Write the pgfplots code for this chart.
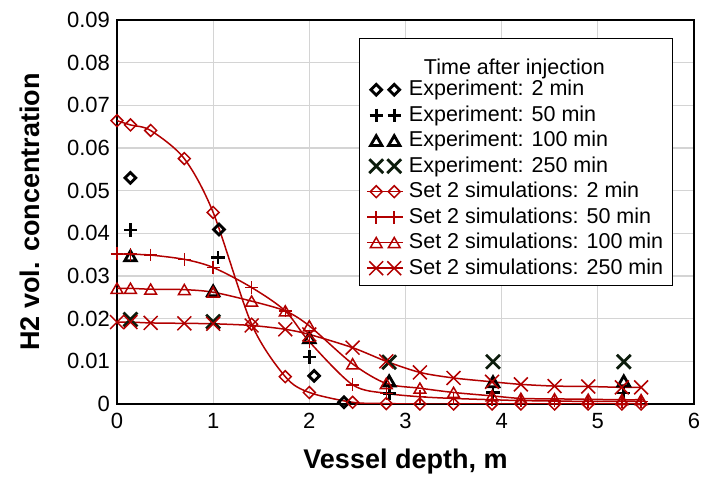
\documentclass[border=0pt]{standalone}
\usepackage{fontspec}
\setmainfont{Liberation Sans}
\usepackage{pgfplots}
\pgfplotsset{compat=1.18}
\definecolor{simred}{RGB}{178,0,0}
\definecolor{gridgray}{RGB}{212,212,212}
\definecolor{xdark}{RGB}{12,28,12}
\pgfplotsset{
  simlegend/.style={legend image code/.code={
      \path[draw=none, fill=none] (0pt,-4pt) rectangle (18pt,4pt);
      \draw[##1, mark=none] (0pt,0pt) -- (18pt,0pt);
      \draw[##1, only marks] plot coordinates {(4.5pt,0pt) (13.5pt,0pt)};}},
  explegend/.style={legend image code/.code={
      \path[draw=none, fill=none] (0pt,-4pt) rectangle (18pt,4pt);
      \draw[##1] plot coordinates {(4.5pt,0pt) (13.5pt,0pt)};}},
  exp/.style={only marks, line width=1.4pt, explegend},
  sim/.style={simred, line width=0.75pt, smooth, simlegend},
}
\begin{document}
\begin{tikzpicture}
\path[use as bounding box] (-58.5pt,-38pt) rectangle (292pt,202pt);
\begin{axis}[
  at={(0,0)}, anchor=south west,
  scale only axis, width=288.5pt, height=192pt,
  xmin=0, xmax=6, ymin=0, ymax=0.09,
  xtick={0,1,2,3,4,5,6},
  ytick={0,0.01,0.02,0.03,0.04,0.05,0.06,0.07,0.08,0.09},
  yticklabels={0,0.01,0.02,0.03,0.04,0.05,0.06,0.07,0.08,0.09},
  scaled y ticks=false,
  /pgf/number format/assume math mode=true,
  tick label style={font=\fontsize{11}{13}\selectfont},
  xticklabel style={yshift=-1pt},
  major tick length=0pt,
  grid=major, major grid style={gridgray, line width=0.6pt},
  axis line style={line width=0.6pt},
  xlabel={Vessel depth, m},
  ylabel={H2 vol. concentration},
  label style={font=\bfseries\fontsize{13.5}{16}\selectfont},
  xlabel style={at={(axis description cs:0.5,-0.151)}, anchor=center},
  ylabel style={at={(axis description cs:-0.1508,0.5)}, anchor=center},
  legend style={at={(rel axis cs:0.4194,0.953)}, anchor=north west,
    draw=black, line width=0.5pt, font=\fontsize{10.75}{12}\selectfont,
    inner xsep=3.5pt, inner ysep=2.5pt, row sep=0pt, column sep=1.3pt,
    nodes={inner sep=1.2pt, text height=8.15pt, text depth=2.2pt}},
  legend cell align=left,
]
\addlegendimage{empty legend}
\addlegendentry[text height=14.3pt, text depth=0pt]{\hspace{7.5pt}Time after injection}

\addplot[exp, black, mark=square, mark size=1.9pt, mark options={rotate=45, solid}] coordinates {
 (0.14,0.0530) (1.06,0.0409) (2.05,0.0066) (2.36,0.0004)};
\addlegendentry{Experiment: 2 min}
\addplot[exp, black, mark=+, mark size=3.3pt] coordinates {
 (0.14,0.0408) (1.05,0.0343) (2.0,0.0110) (2.83,0.0025) (3.91,0.0027) (5.27,0.0026)};
\addlegendentry{Experiment: 50 min}
\addplot[exp, black, mark=triangle, mark size=3.3pt, mark options={yshift=-0.8pt}] coordinates {
 (0.14,0.0347) (1.0,0.0265) (2.0,0.0155) (2.83,0.0054) (3.91,0.0052) (5.27,0.0054)};
\addlegendentry{Experiment: 100 min}
\addplot[exp, xdark, mark=x, mark size=4.9pt] coordinates {
 (0.14,0.0198) (1.0,0.0193) (2.83,0.0098) (3.91,0.0099) (5.27,0.0099)};
\addlegendentry{Experiment: 250 min}

\addplot[sim, mark=square, mark size=2.1pt, mark options={rotate=45, solid}] coordinates {
 (0,0.0664) (0.14,0.0654) (0.35,0.0641) (0.7,0.0575) (1.0,0.0449) (1.4,0.0187)
 (1.75,0.0064) (2.0,0.0027) (2.45,0.0004) (2.8,0.0001) (3.15,0) (3.5,0)
 (3.9,0) (4.2,0) (4.55,0) (4.9,0) (5.25,0) (5.45,0)};
\addlegendentry{Set 2 simulations: 2 min}
\addplot[sim, mark=+, mark size=3.2pt] coordinates {
 (0,0.0352) (0.14,0.0351) (0.35,0.0349) (0.7,0.0339) (1.0,0.0320) (1.4,0.0273)
 (1.75,0.0218) (2.0,0.0146) (2.45,0.0045) (2.8,0.0025) (3.15,0.0017) (3.5,0.0013)
 (3.9,0.0010) (4.2,0.0008) (4.55,0.0007) (4.9,0.0006) (5.25,0.0006) (5.45,0.0006)};
\addlegendentry{Set 2 simulations: 50 min}
\addplot[sim, mark=triangle, mark size=3.4pt, mark options={yshift=-0.8pt}] coordinates {
 (0,0.0271) (0.14,0.0271) (0.35,0.0269) (0.7,0.0268) (1.0,0.0262) (1.4,0.0241)
 (1.75,0.0218) (2.0,0.0183) (2.45,0.0094) (2.8,0.0048) (3.15,0.0037) (3.5,0.0027)
 (3.9,0.0019) (4.2,0.0013) (4.55,0.0012) (4.9,0.0011) (5.25,0.0010) (5.45,0.0010)};
\addlegendentry{Set 2 simulations: 100 min}
\addplot[sim, mark=x, mark size=4.9pt] coordinates {
 (0,0.0192) (0.14,0.0192) (0.35,0.0190) (0.7,0.0189) (1.0,0.0188) (1.4,0.0184)
 (1.75,0.0175) (2.0,0.0163) (2.45,0.0132) (2.8,0.0100) (3.15,0.0074) (3.5,0.0061)
 (3.9,0.0052) (4.2,0.0046) (4.55,0.0042) (4.9,0.0041) (5.25,0.0039) (5.45,0.0039)};
\addlegendentry{Set 2 simulations: 250 min}
\end{axis}
\end{tikzpicture}
\end{document}
